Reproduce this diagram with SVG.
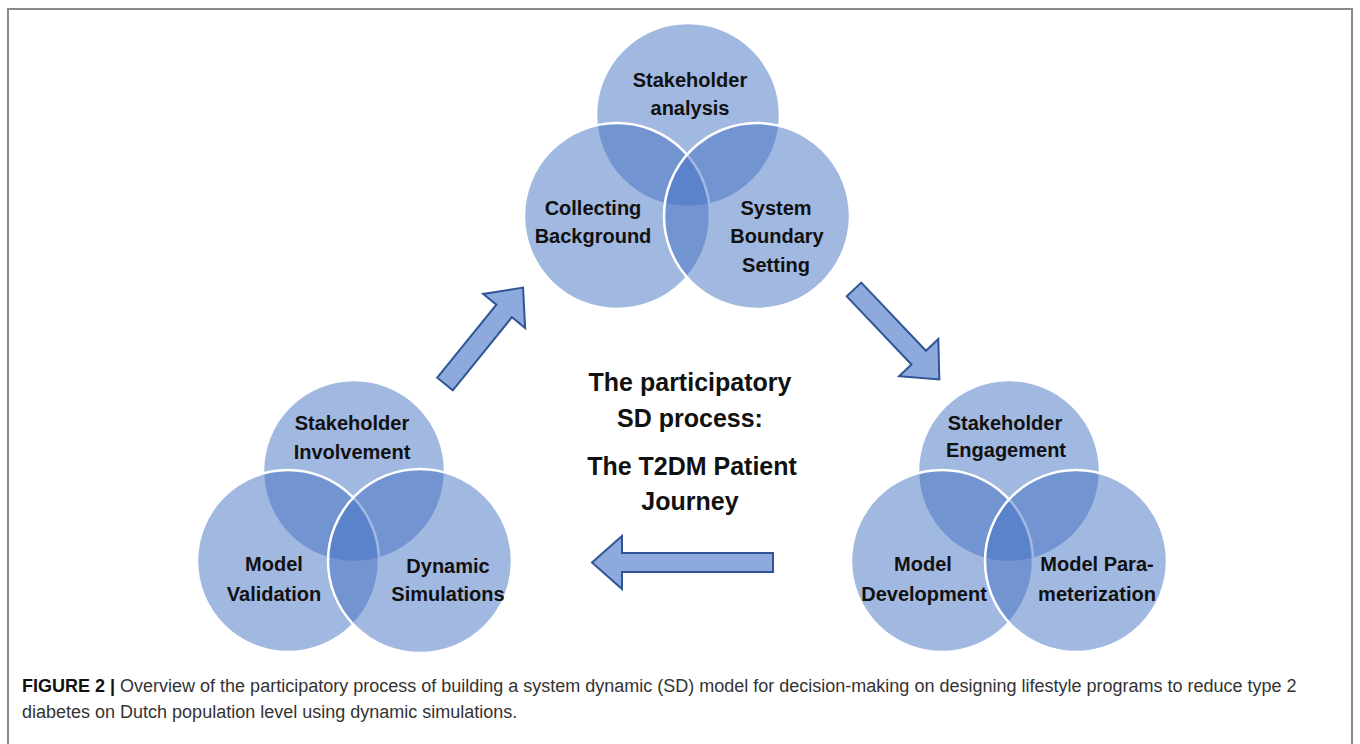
<svg xmlns="http://www.w3.org/2000/svg" width="1360" height="744" viewBox="0 0 1360 744">
<style>
.c{fill:#4472c4;fill-opacity:0.5;stroke:#ffffff;stroke-width:2.5}
.t{font-family:"Liberation Sans",Arial,sans-serif;font-weight:bold;font-size:20px;fill:#111;text-anchor:middle}
.m{font-family:"Liberation Sans",Arial,sans-serif;font-weight:bold;font-size:25px;fill:#111;text-anchor:middle}
.cap{font-family:"Liberation Sans",Arial,sans-serif;font-size:18px;fill:#333}
.ar{fill:#8eaadc;stroke:#2f5597;stroke-width:2;stroke-linejoin:miter}
</style>
<defs>
<path id="arr" d="M0,-10 L94,-10 L94,-27 L124,0 L94,27 L94,10 L0,10 Z"/>
</defs>
<rect x="0" y="0" width="1360" height="744" fill="#ffffff"/>
<rect x="8" y="9" width="1344" height="760" fill="none" stroke="#8a8a8a" stroke-width="2"/>

<g id="top-cluster">
<circle class="c" cx="688" cy="115" r="92"/>
<circle class="c" cx="617" cy="216" r="93"/>
<circle class="c" cx="757" cy="216" r="93"/>
<text class="t" x="690" y="87">Stakeholder</text>
<text class="t" x="690" y="115">analysis</text>
<text class="t" x="593" y="215">Collecting</text>
<text class="t" x="593" y="243">Background</text>
<text class="t" x="776" y="215">System</text>
<text class="t" x="777" y="243">Boundary</text>
<text class="t" x="776" y="272">Setting</text>
</g>

<g id="left-cluster">
<circle class="c" cx="354" cy="471" r="91"/>
<circle class="c" cx="288" cy="561" r="91"/>
<circle class="c" cx="420" cy="561" r="92"/>
<text class="t" x="352" y="430">Stakeholder</text>
<text class="t" x="352" y="459">Involvement</text>
<text class="t" x="274" y="571">Model</text>
<text class="t" x="274" y="601">Validation</text>
<text class="t" x="448" y="573">Dynamic</text>
<text class="t" x="448" y="601">Simulations</text>
</g>

<g id="right-cluster">
<circle class="c" cx="1009" cy="471" r="91"/>
<circle class="c" cx="942" cy="561" r="91"/>
<circle class="c" cx="1076" cy="561" r="91"/>
<text class="t" x="1005" y="430">Stakeholder</text>
<text class="t" x="1006" y="457">Engagement</text>
<text class="t" x="923" y="571">Model</text>
<text class="t" x="924" y="601">Development</text>
<text class="t" x="1097" y="571">Model Para-</text>
<text class="t" x="1097" y="601">meterization</text>
</g>

<g id="center-title">
<text class="m" x="690" y="391">The participatory</text>
<text class="m" x="690" y="427">SD process:</text>
<text class="m" x="692" y="475">The T2DM Patient</text>
<text class="m" x="690" y="510">Journey</text>
</g>

<g id="connectors">
<use href="#arr" class="ar" transform="translate(445,384) rotate(-51)"/>
<use href="#arr" class="ar" transform="translate(854,289.5) rotate(46.5)"/>
<path class="ar" d="M773,553 L622,553 L622,536 L592,562.5 L622,589 L622,572 L773,572 Z"/>
</g>

<g id="caption">
<text class="cap" x="22" y="692"><tspan font-weight="bold" fill="#111">FIGURE 2 |</tspan> Overview of the participatory process of building a system dynamic (SD) model for decision-making on designing lifestyle programs to reduce type 2</text>
<text class="cap" x="22" y="718">diabetes on Dutch population level using dynamic simulations.</text>
</g>
</svg>
